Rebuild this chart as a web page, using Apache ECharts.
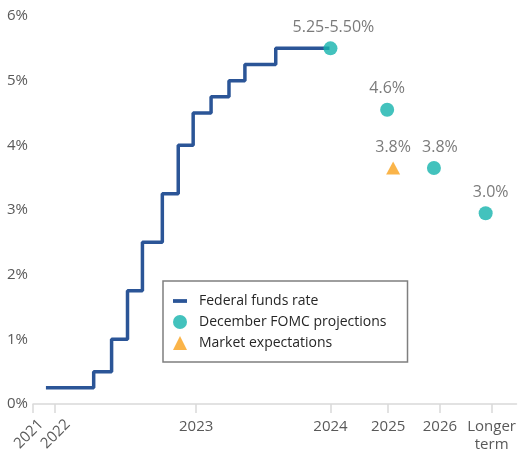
<!DOCTYPE html>
<html>
<head>
<meta charset="utf-8">
<script src="https://cdn.jsdelivr.net/npm/echarts@6/dist/echarts.min.js"></script>
<style>
  html, body { margin: 0; padding: 0; background: #fff; }
  #chart { width: 519px; height: 454px; }
</style>
</head>
<body>
<div id="chart"></div>
<script>
// x values are in the chart's own horizontal units (axis start = 0)
const tickPos = [0, 22, 164, 299, 357, 409, 461];
const tickLabels = ['2021', '2022', '2023', '2024', '2025', '2026', 'Longer\nterm'];
// the two slanted labels sit a little right of their ticks
const slantPos = [8, 35];
const slantLabels = ['2021', '2022'];

// federal funds rate (upper bound), one point per change
const fedX = [13, 61, 79, 95, 110, 130, 146, 161, 179, 197, 213, 244, 298];
const fedRate = [0.25, 0.5, 1.0, 1.75, 2.5, 3.25, 4.0, 4.5, 4.75, 5.0, 5.25, 5.5, 5.5];

// December FOMC projections
const fomcX = [299, 356, 403, 455];
const fomcRate = [5.5, 4.55, 3.65, 2.95];
const fomcLabels = ['5.25-5.50%', '4.6%', '3.8%', '3.0%'];

// market expectations
const marketX = [362];
const marketRate = [3.65];
const marketLabels = ['3.8%'];

const FONT = 'Open Sans';
const GREY = '#595959';
// horizontal nudge of the point labels, px
const fomcLabelShift = [3, 0, 6, 5];

const chart = echarts.init(document.getElementById('chart'), null, { renderer: 'canvas' });

function zip(xs, ys) {
  return xs.map((x, i) => [x, ys[i]]);
}

function tickName(v) {
  const i = tickPos.indexOf(v);
  return i < 0 ? '' : tickLabels[i];
}

function slantName(v) {
  const i = slantPos.indexOf(v);
  return i < 0 ? '' : slantLabels[i];
}

const option = {
  animation: false,
  backgroundColor: '#fff',
  grid: { left: 33, right: 0, top: 16, bottom: 50 },
  xAxis: [
    {
      type: 'value',
      min: 0,
      max: 486,
      splitLine: { show: false },
      axisLine: { lineStyle: { color: '#d9d9d9', width: 1.5 } },
      axisTick: {
        customValues: tickPos,
        length: 9,
        lineStyle: { color: '#d9d9d9', width: 1.5 }
      },
      axisLabel: {
        customValues: tickPos.slice(2),
        formatter: tickName,
        color: GREY,
        fontFamily: FONT,
        fontSize: 15,
        lineHeight: 18,
        margin: 14
      }
    },
    {
      // 2021 and 2022 are slanted
      type: 'value',
      position: 'bottom',
      min: 0,
      max: 486,
      splitLine: { show: false },
      axisLine: { show: false },
      axisTick: { show: false },
      axisLabel: {
        customValues: slantPos,
        formatter: slantName,
        rotate: 45,
        color: GREY,
        fontFamily: FONT,
        fontSize: 15,
        margin: 18
      }
    }
  ],
  yAxis: {
    type: 'value',
    min: 0,
    max: 6,
    interval: 1,
    splitLine: { show: false },
    axisLine: { show: false },
    axisTick: { show: false },
    axisLabel: {
      formatter: '{value}%',
      color: GREY,
      fontFamily: FONT,
      fontSize: 15,
      margin: 5
    }
  },
  legend: {
    orient: 'vertical',
    left: 163,
    top: 281,
    borderColor: '#7f7f7f',
    borderWidth: 1.5,
    padding: [13, 21, 12, 10],
    itemWidth: 14,
    itemHeight: 14,
    itemGap: 7,
    textStyle: {
      color: '#262626',
      fontFamily: FONT,
      fontSize: 14,
      padding: [0, 0, 0, 7]
    },
    data: [
      { name: 'Federal funds rate', icon: 'path://M0,0H13V3.5H0Z' },
      { name: 'December FOMC projections' },
      { name: 'Market expectations' }
    ]
  },
  series: [
    {
      name: 'Federal funds rate',
      type: 'line',
      step: 'end',
      symbol: 'none',
      color: '#2b5597',
      lineStyle: { color: '#2b5597', width: 3.5 },
      data: zip(fedX, fedRate),
      z: 1
    },
    {
      name: 'December FOMC projections',
      type: 'scatter',
      symbol: 'circle',
      symbolSize: 14,
      itemStyle: { color: '#14b3ad' },
      label: {
        show: true,
        position: 'top',
        distance: 6,
        formatter: p => fomcLabels[p.dataIndex],
        color: GREY,
        fontFamily: FONT,
        fontSize: 16
      },
      data: zip(fomcX, fomcRate).map((d, i) => ({
        value: d,
        label: { offset: [fomcLabelShift[i], 0] }
      })),
      z: 3
    },
    {
      name: 'Market expectations',
      type: 'scatter',
      symbol: 'triangle',
      symbolSize: [14, 13],
      itemStyle: { color: '#f9a11b' },
      label: {
        show: true,
        position: 'top',
        distance: 6,
        formatter: p => marketLabels[p.dataIndex],
        color: GREY,
        fontFamily: FONT,
        fontSize: 16
      },
      data: zip(marketX, marketRate),
      z: 3
    }
  ]
};

chart.setOption(option);
</script>
</body>
</html>
